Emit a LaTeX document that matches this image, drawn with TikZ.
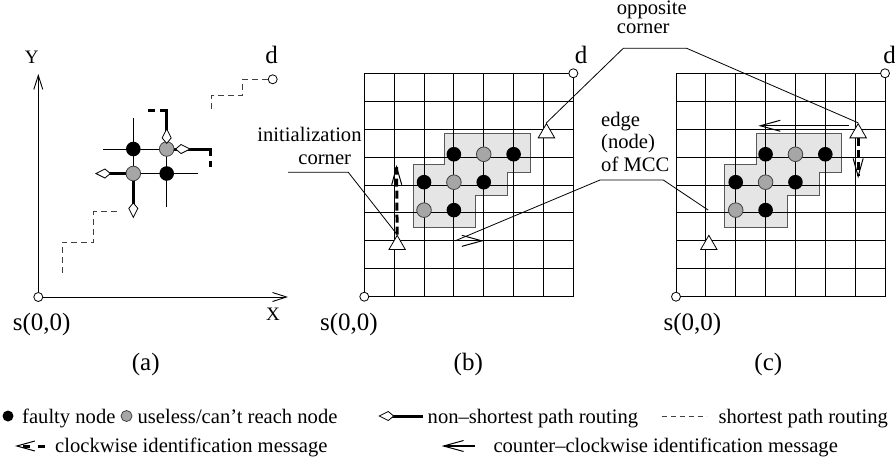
\documentclass[tikz,border=0pt]{standalone}
\usepackage{fontspec}
\setmainfont{Liberation Serif}
\usetikzlibrary{arrows.meta,shapes.geometric,positioning}

% one mesh panel: #1 prefix, #2 x of s(0,0), #3 extra drawing in grid units
\newcommand{\meshpanel}[3]{%
  \begin{scope}[shift={(#2,296.7)},x=29.86pt,y=27.93pt]
    \draw[mccbox] (1.64,2.47) -- (1.64,4.75) -- (2.7,4.75) -- (2.7,5.85) -- (5.55,5.85) -- (5.55,4.45)
      -- (4.8,4.45) -- (4.8,3.64) -- (3.74,3.64) -- (3.74,2.47) -- cycle;
    \foreach \i in {0,...,7} \draw[meshline] (\i,0) -- (\i,8);
    \foreach \j in {0,...,8} \draw[meshline] (0,\j) -- (7,\j);
    \foreach \i/\j in {3/5,5/5,2/4,4/4,3/3} \node[faulty] (#1-f\i\j) at (\i,\j+0.1) {};
    \foreach \i/\j in {4/5,3/4,2/3} \node[useless] (#1-u\i\j) at (\i,\j+0.1) {};
    \node[endpt] (#1-s) at (0,0) {};
    \node[endpt] (#1-d) at (7,8) {};
    \node[cornermark] (#1-init) at (1.1,2) {};
    \node[cornermark] (#1-opp) at (6.1,6) {};
    #3
  \end{scope}}

\begin{document}
\begin{tikzpicture}[x=1pt,y=-1pt,font=\fontsize{20.6}{22.5}\selectfont]
\tikzstyle{meshline}=[line width=0.9pt]
\tikzstyle{mccbox}=[draw=black!65,fill=black!10,line width=1pt]
\tikzstyle{faulty}=[circle,fill=black,minimum size=14.6pt,inner sep=0pt]
\tikzstyle{useless}=[circle,draw=black!75,fill=black!35,minimum size=14.6pt,inner sep=0pt,line width=0.8pt]
\tikzstyle{endpt}=[circle,draw,fill=white,minimum size=9pt,inner sep=0pt,line width=0.8pt]
\tikzstyle{cornermark}=[regular polygon,regular polygon sides=3,draw,fill=white,minimum size=19pt,inner sep=0pt,yshift=-4pt,line width=0.8pt]
\tikzstyle{lbl}=[inner sep=0pt,anchor=base]
\tikzstyle{biglbl}=[lbl,font=\fontsize{25}{28}\selectfont]
\tikzstyle{axlbl}=[lbl,font=\fontsize{19}{22}\selectfont]
\tikzstyle{leader}=[line width=0.8pt]
\tikzstyle{axis}=[line width=0.9pt,-{Straight Barb[length=14pt,width=9pt,line width=0.9pt]}]
\tikzstyle{shortpath}=[line width=0.9pt,black!75,dash pattern=on 6pt off 4pt]
\tikzstyle{detour}=[line width=3pt,line cap=rect]
\tikzstyle{detourdash}=[line width=3pt,dash pattern=on 7pt off 5pt]
\tikzstyle{kitetip}=[line width=0.8pt,-{Kite[length=16pt,width=10pt,inset=6pt,fill=white]}]
\tikzstyle{detourtip}=[line width=3pt,-{Kite[length=16pt,width=10pt,inset=6pt,fill=white,line width=0.8pt]}]
\tikzstyle{cwmsg}=[line width=3pt,dash pattern=on 8pt off 4pt,-{Straight Barb[length=18pt,width=10pt,line width=1pt]}]
\tikzstyle{ccwmsg}=[line width=1.2pt,-{Straight Barb[length=20pt,width=11pt,line width=1pt]}]
\useasboundingbox (0,0) rectangle (895,459);

% (a) routing around the faulty block
\node[endpt] (a-s) at (38.3,297) {};
\coordinate (a-ytip) at (38.3,74);
\coordinate (a-xtip) at (288,297);
\draw[axis] (a-s) -- (a-ytip);
\draw[axis] (a-s) -- (a-xtip);
\node[axlbl] (a-ylbl) at (31.7,63.3) {Y};
\node[axlbl] (a-xlbl) at (273,320.7) {X};
\node[biglbl] (a-slbl) at (41.7,330) {s(0,0)};
\node[endpt] (a-d) at (272.7,79.3) {};
\node[biglbl] (a-dlbl) at (271.7,63.3) {d};
\draw[shortpath] (a-d) -- (242,79.3) -- (242,95) -- (211,95) -- (211,110);
\draw[shortpath] (116.7,211.7) -- (93.7,211.7) -- (93.7,242.3) -- (62.3,242.3) -- (62.3,273.3);
\draw[meshline] (103.3,149) -- (175,149);
\draw[meshline] (133.3,173.5) -- (198.3,173.5);
\draw[meshline] (133.3,118.3) -- (133.3,173.5);
\draw[meshline] (166.7,149) -- (166.7,206.7);
\draw[detour] (166.7,149) -- (166.7,110);
\draw[detourdash] (166.7,110) -- (145.7,110);
\draw[detour] (166.7,149) -- (210,149);
\draw[detourdash] (210,149) -- (210,167);
\node[faulty] (a-f1) at (133.3,149) {};
\node[useless] (a-u1) at (166.7,149) {};
\node[useless] (a-u2) at (133.3,173.5) {};
\node[faulty] (a-f2) at (166.7,173.5) {};
\coordinate (a-k1) at (166.7,128);
\coordinate (a-k2) at (191,149);
\coordinate (a-k3) at (95,173.5);
\coordinate (a-k4) at (133.3,218.3);
\draw[kitetip] (a-u1) -- (a-k1);
\draw[kitetip] (a-u1) -- (a-k2);
\draw[detourtip] (a-u2) -- (a-k3);
\draw[detourtip] (a-u2) -- (a-k4);

% (b) and (c) MCC identification
\meshpanel{b}{364.3}{
  \coordinate (b-cwtip) at (1.08,4.72);
  \coordinate (b-ccw0) at (1.4,2);
  \coordinate (b-ccwtip) at (4,2);
  \coordinate (b-edge) at (3.04,2);
  \draw[cwmsg] (b-init.north) -- (b-cwtip);
  \draw[ccwmsg] (b-ccw0) -- (b-ccwtip);
}
\meshpanel{c}{676}{
  \coordinate (c-ccw0) at (5.8,6.12);
  \coordinate (c-ccwtip) at (2.76,6.12);
  \coordinate (c-cwtip) at (6.1,4.24);
  \coordinate (c-edge) at (1.08,3.1);
  \draw[ccwmsg] (c-ccw0) -- (c-ccwtip);
  \draw[cwmsg] (c-opp.south) -- (c-cwtip);
}
\node[biglbl] (b-slbl) at (349,330) {s(0,0)};
\node[biglbl] (b-dlbl) at (581,63.3) {d};
\node[biglbl] (c-slbl) at (692.5,330) {s(0,0)};
\node[biglbl] (c-dlbl) at (889.5,63.3) {d};

% leaders
\node[lbl] (initlbl1) at (309.5,141.7) {initialization};
\node[lbl] (initlbl2) at (324.7,164.3) {corner};
\coordinate (initA) at (288,172.3);
\coordinate (initB) at (348.3,172.3);
\draw[leader] (initA) -- (initB) -- (b-init.north);
\node[lbl,anchor=base west] (opplbl1) at (616.7,14.5) {opposite};
\node[lbl,anchor=base west] (opplbl2) at (616.7,33) {corner};
\coordinate (oppA) at (623.3,48.3);
\coordinate (oppB) at (686.7,48.3);
\draw[leader] (b-opp.north) -- (oppA) -- (oppB) -- (c-opp.north);
\node[lbl,anchor=base west] (mcclbl1) at (601,126.7) {edge};
\node[lbl,anchor=base west] (mcclbl2) at (601,148.3) {(node)};
\node[lbl,anchor=base west] (mcclbl3) at (601,171.7) {of MCC};
\coordinate (mccA) at (600,180);
\coordinate (mccB) at (663.3,180);
\draw[leader] (b-edge) -- (mccA) -- (mccB) -- (c-edge);

\node[biglbl] (capa) at (145.7,370) {(a)};
\node[biglbl] (capb) at (468.3,370) {(b)};
\node[biglbl] (capc) at (768.3,370) {(c)};

% legend
\node[faulty,minimum size=11pt] (lg-f) at (8,416) {};
\node[lbl,anchor=base west] (lg-ft) at (22,423) {faulty node};
\node[useless,minimum size=11pt,right=5pt of lg-ft.base east,yshift=7pt] (lg-u) {};
\node[lbl,anchor=base west,xshift=5pt] (lg-ut) at (lg-u.east |- lg-ft.base) {useless/can’t reach node};
\coordinate (lg-k0) at (423,416);
\coordinate (lg-k1) at (378.3,416);
\draw[detourtip] (lg-k0) -- (lg-k1);
\node[lbl,anchor=base west] (lg-kt) at (427.5,423) {non--shortest path routing};
\coordinate (lg-s0) at (661.7,416);
\coordinate (lg-s1) at (706.7,416);
\draw[shortpath,dash pattern=on 5pt off 4pt] (lg-s0) -- (lg-s1);
\node[lbl,anchor=base west] (lg-st) at (718.3,423) {shortest path routing};
\coordinate (lg-cw0) at (45,446);
\coordinate (lg-cw1) at (15,446);
\draw[cwmsg,dash pattern=on 7pt off 8pt] (lg-cw0) -- (lg-cw1);
\node[lbl,anchor=base west] (lg-cwt) at (55,452) {clockwise identification message};
\coordinate (lg-cc0) at (475,446);
\coordinate (lg-cc1) at (441.7,446);
\draw[ccwmsg] (lg-cc0) -- (lg-cc1);
\node[lbl,anchor=base west] (lg-cct) at (493.3,452) {counter--clockwise identification message};
\end{tikzpicture}
\end{document}
